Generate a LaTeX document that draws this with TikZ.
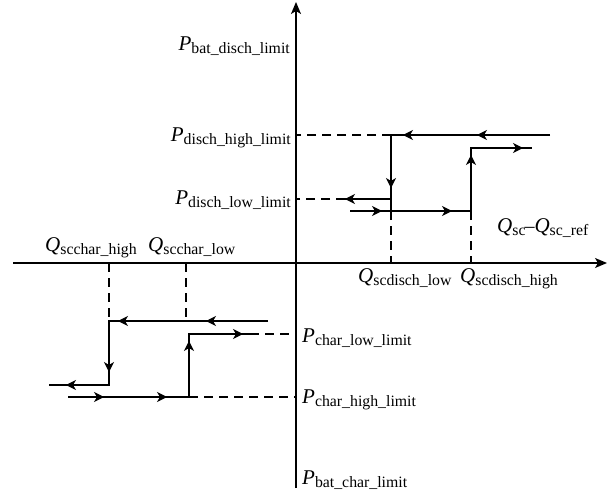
\documentclass[tikz,border=0pt]{standalone}
\usepackage{fontspec}
\setmainfont{Liberation Serif}
\usetikzlibrary{arrows.meta}
\newcommand{\lbl}[2]{{\fontsize{21}{20}\selectfont\itshape #1}\raisebox{-3pt}{\fontsize{15.8}{16}\selectfont #2}}
\tikzset{
  ax/.style={line width=1.3pt,-{Stealth[length=12pt,width=10pt,inset=3pt]}},
  ln/.style={line width=1.3pt},
  dsh/.style={line width=1.3pt,dash pattern=on 9pt off 6pt},
  tip/.style={line width=1.3pt,-{Stealth[length=10pt,width=10pt,inset=3pt]}},
  lab/.style={inner sep=0pt,font=\fontsize{20}{20}\selectfont}
}
\begin{document}
\begin{tikzpicture}[x=1pt,y=-1pt]
\useasboundingbox (0,0) rectangle (611,493);
% axes
\coordinate (yb) at (296,488); \coordinate (yt) at (296,2);
\coordinate (xl) at (13,263); \coordinate (xr) at (607,263);
\draw[ax] (yb) -- (yt);
\draw[ax] (xl) -- (xr);
% upper right (discharge)
\coordinate (d1) at (550,135); \coordinate (d2) at (391,135); \coordinate (d3) at (391,211);
\coordinate (d4) at (391,199); \coordinate (d5) at (345,199); \coordinate (d6) at (296,199);
\coordinate (d7) at (296,135); \coordinate (d8) at (350,211); \coordinate (d9) at (471,211);
\coordinate (d10) at (471,148); \coordinate (d11) at (532,148);
\coordinate (d12) at (391,263); \coordinate (d13) at (471,263);
\draw[ln] (d1) -- (d2) -- (d3);
\draw[ln] (d4) -- (d5);
\draw[dsh] (d5) -- (d6);
\draw[dsh] (d2) -- (d7);
\draw[ln] (d8) -- (d9) -- (d10) -- (d11);
\draw[dsh] (d3) -- (d12);
\draw[dsh] (d9) -- (d13);
\draw[tip] (413,135) -- (403,135);
\draw[tip] (487,135) -- (477,135);
\draw[tip] (391,177) -- (391,188);
\draw[tip] (355,199) -- (345,199);
\draw[tip] (372,211) -- (382,211);
\draw[tip] (442,211) -- (452,211);
\draw[tip] (471,165) -- (471,155);
\draw[tip] (513,148) -- (523,148);
% lower left (charge)
\coordinate (c1) at (268,321); \coordinate (c2) at (109,321); \coordinate (c3) at (109,385);
\coordinate (c4) at (49,385); \coordinate (c5) at (109,263); \coordinate (c6) at (186,263);
\coordinate (c7) at (186,321); \coordinate (c8) at (68,397); \coordinate (c9) at (189,397);
\coordinate (c10) at (189,334); \coordinate (c11) at (250,334);
\coordinate (c12) at (296,397); \coordinate (c13) at (296,334);
\draw[ln] (c1) -- (c2) -- (c3) -- (c4);
\draw[dsh] (c5) -- (c2);
\draw[dsh] (c6) -- (c7);
\draw[ln] (c8) -- (c9) -- (c10) -- (c11);
\draw[dsh] (c9) -- (c12);
\draw[dsh] (c11) -- (c13);
\draw[tip] (128,321) -- (118,321);
\draw[tip] (216,321) -- (206,321);
\draw[tip] (109,361) -- (109,372);
\draw[tip] (76,385) -- (66,385);
\draw[tip] (94,397) -- (104,397);
\draw[tip] (157,397) -- (167,397);
\draw[tip] (189,351) -- (189,341);
\draw[tip] (233,334) -- (243,334);
% labels
\node[lab,anchor=base east] (l1) at (290,50) {\lbl{P}{bat\_disch\_limit}};
\node[lab,anchor=base east] (l2) at (291,141) {\lbl{P}{disch\_high\_limit}};
\node[lab,anchor=base east] (l3) at (291,204) {\lbl{P}{disch\_low\_limit}};
\node[lab,anchor=base west] (l4) at (302,342) {\lbl{P}{char\_low\_limit}};
\node[lab,anchor=base west] (l5) at (302,403) {\lbl{P}{char\_high\_limit}};
\node[lab,anchor=base west] (l6) at (302,484) {\lbl{P}{bat\_char\_limit}};
\node[lab,anchor=base west] (l7) at (358,282) {\lbl{Q}{scdisch\_low}};
\node[lab,anchor=base west] (l8) at (460,282) {\lbl{Q}{scdisch\_high}};
\node[lab,anchor=base west] (l9) at (45,251) {\lbl{Q}{scchar\_high}};
\node[lab,anchor=base west] (l10) at (148,251) {\lbl{Q}{scchar\_low}};
\node[lab,anchor=base west] (l11) at (497,232) {\lbl{Q}{sc}\hspace{-1pt}{\fontsize{20}{20}\selectfont –}\lbl{Q}{sc\_ref}};
\end{tikzpicture}
\end{document}
